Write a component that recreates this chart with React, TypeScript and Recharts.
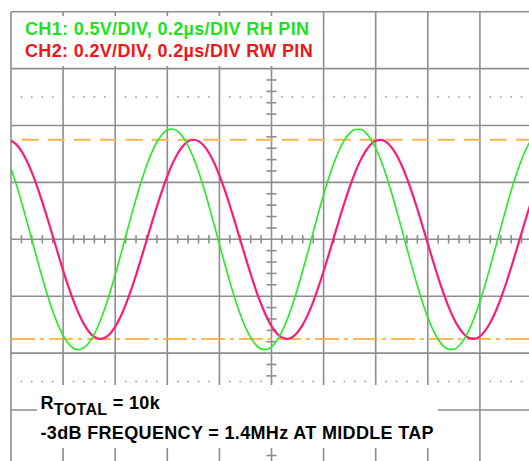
import React from "react";
import { LineChart, Line, XAxis, YAxis, CartesianGrid, ReferenceLine } from "recharts";

// Sample times (µs), 0.2 µs per horizontal division
const timeUs = [
  0, 0.02, 0.04, 0.06, 0.08, 0.1, 0.12, 0.14, 0.16, 0.18,
  0.2, 0.22, 0.24, 0.26, 0.28, 0.3, 0.32, 0.34, 0.36, 0.38,
  0.4, 0.42, 0.44, 0.46, 0.48, 0.5, 0.52, 0.54, 0.56, 0.58,
  0.6, 0.62, 0.64, 0.66, 0.68, 0.7, 0.72, 0.74, 0.76, 0.78,
  0.8, 0.82, 0.84, 0.86, 0.88, 0.9, 0.92, 0.94, 0.96, 0.98,
  1.0, 1.02, 1.04, 1.06, 1.08, 1.1, 1.12, 1.14, 1.16, 1.18,
  1.2, 1.22, 1.24, 1.26, 1.28, 1.3, 1.32, 1.34, 1.36, 1.38,
  1.4, 1.42, 1.44, 1.46, 1.48, 1.5, 1.52, 1.54, 1.56, 1.58,
  1.6, 1.62, 1.64, 1.66, 1.68, 1.7, 1.72, 1.74, 1.76, 1.78,
  1.8, 1.82, 1.84, 1.86, 1.88, 1.9, 1.92, 1.94, 1.96, 1.98,
  2.0,
];

// CH1 (RH pin), in screen divisions
const ch1Div = [
  1.246, 0.968, 0.659, 0.33, -0.009, -0.348, -0.676, -0.984, -1.26, -1.499,
  -1.691, -1.831, -1.915, -1.94, -1.905, -1.812, -1.662, -1.462, -1.217, -0.934,
  -0.623, -0.292, 0.048, 0.386, 0.712, 1.016, 1.29, 1.523, 1.71, 1.843,
  1.921, 1.939, 1.897, 1.797, 1.642, 1.437, 1.187, 0.9, 0.586, 0.254,
  -0.086, -0.423, -0.748, -1.049, -1.317, -1.547, -1.728, -1.855, -1.926, -1.937,
  -1.889, -1.783, -1.621, -1.411, -1.156, -0.866, -0.549, -0.216, 0.124, 0.461,
  0.783, 1.081, 1.346, 1.569, 1.744, 1.866, 1.93, 1.935, 1.88, 1.767,
  1.6, 1.384, 1.125, 0.832, 0.513, 0.178, -0.163, -0.498, -0.818, -1.113,
  -1.373, -1.592, -1.761, -1.876, -1.934, -1.931, -1.87, -1.751, -1.578, -1.356,
  -1.094, -0.797, -0.476, -0.139, 0.201, 0.535, 0.853, 1.144, 1.401, 1.613,
  1.776,
];

// CH2 (RW pin), in screen divisions
const ch2Div = [
  1.735, 1.668, 1.551, 1.385, 1.177, 0.932, 0.659, 0.366, 0.061, -0.246,
  -0.545, -0.827, -1.084, -1.307, -1.49, -1.628, -1.715, -1.749, -1.73, -1.658,
  -1.534, -1.364, -1.151, -0.903, -0.627, -0.332, -0.026, 0.28, 0.577, 0.857,
  1.111, 1.33, 1.508, 1.64, 1.721, 1.75, 1.725, 1.646, 1.517, 1.342,
  1.124, 0.873, 0.594, 0.298, -0.008, -0.314, -0.61, -0.887, -1.137, -1.352,
  -1.525, -1.652, -1.727, -1.75, -1.719, -1.634, -1.499, -1.319, -1.098, -0.842,
  -0.562, -0.264, 0.043, 0.348, 0.642, 0.917, 1.163, 1.374, 1.542, 1.663,
  1.733, 1.749, 1.712, 1.621, 1.482, 1.296, 1.07, 0.812, 0.529, 0.229,
  -0.078, -0.382, -0.674, -0.946, -1.188, -1.395, -1.558, -1.673, -1.737, -1.747,
  -1.704, -1.608, -1.463, -1.273, -1.043, -0.781, -0.496, -0.195, 0.112, 0.416,
  0.706,
];

const gridTimeTicks = [0, 0.2, 0.4, 0.6, 0.8, 1.0, 1.2, 1.4, 1.6, 1.8, 2.0];
const gridDivTicks = [-4, -3, -2, -1, 0, 1, 2, 3, 4];
const cursorLevels = [1.75, -1.75];
const dottedRows = [2.5, -2.5];

const ch1Label = "CH1: 0.5V/DIV, 0.2µs/DIV RH PIN";
const ch2Label = "CH2: 0.2V/DIV, 0.2µs/DIV RW PIN";
const noteMain = "R";
const noteSub = "TOTAL";
const noteRest = " = 10k";
const noteLine2 = "-3dB FREQUENCY = 1.4MHz AT MIDDLE TAP";

const data = timeUs.map((t, i) => ({ t, ch1: ch1Div[i], ch2: ch2Div[i] }));

const minorDiv: number[] = [];
for (let i = -19; i <= 19; i++) if (i % 5 !== 0) minorDiv.push(i / 5);
const minorTime: number[] = [];
for (let i = 1; i < 50; i++) if (i % 5 !== 0) minorTime.push(+(i * 0.04).toFixed(2));

const W = 545;
const H = 475;
const GRID = "#8e8e8e";
const FONT = "'Liberation Sans', Arial, Helvetica, sans-serif";
const LS = 0.34;

export default function App() {
  return (
    <div
      style={{
        position: "fixed",
        left: 0,
        top: 0,
        width: 529,
        height: 461,
        overflow: "hidden",
        background: "#fff",
      }}
    >
      <LineChart
        width={W}
        height={H}
        data={data}
        margin={{ top: 11.7, right: 13, bottom: 8.1, left: 11 }}
      >
        <XAxis type="number" dataKey="t" domain={[0, 2]} ticks={gridTimeTicks} hide />
        <YAxis type="number" domain={[-4, 4]} ticks={gridDivTicks} hide />
        <CartesianGrid stroke={GRID} strokeWidth={1.6} strokeDasharray="" />
        {dottedRows.map((y) => (
          <ReferenceLine
            key={"d" + y}
            y={y}
            stroke="#9a9a9a"
            strokeWidth={1.6}
            strokeDasharray="1.6 8.82"
            strokeDashoffset={0.8}
          />
        ))}
        {minorDiv.map((v) => (
          <ReferenceLine
            key={"mv" + v}
            segment={[
              { x: 1 - 0.0195, y: v },
              { x: 1 + 0.0195, y: v },
            ]}
            stroke={GRID}
            strokeWidth={1.6}
          />
        ))}
        {minorTime.map((t) => (
          <ReferenceLine
            key={"mt" + t}
            segment={[
              { x: t, y: -0.075 },
              { x: t, y: 0.075 },
            ]}
            stroke={GRID}
            strokeWidth={1.6}
          />
        ))}
        <ReferenceLine
          y={cursorLevels[0]}
          stroke="#f6b552"
          strokeWidth={2}
          strokeDasharray="17 9"
          strokeDashoffset={15.3}
        />
        <ReferenceLine
          y={cursorLevels[1]}
          stroke="#ffa41c"
          strokeWidth={1.5}
          strokeDasharray="24 5 4 5"
        />
        <Line
          type="monotone"
          dataKey="ch2"
          stroke="#ff1a78"
          strokeWidth={2.2}
          dot={false}
          isAnimationActive={false}
        />
        <Line
          type="monotone"
          dataKey="ch1"
          stroke="#22ec22"
          strokeWidth={1.6}
          dot={false}
          isAnimationActive={false}
        />
      </LineChart>
      <svg
        width={529}
        height={461}
        style={{ position: "absolute", left: 0, top: 0 }}
      >
        <rect x={12.5} y={16} width={306} height={50} fill="#fff" />
        <text x={25} y={35} fill="#1de21d" fontFamily={FONT} fontWeight="bold" fontSize={18} letterSpacing={LS}>
          {ch1Label}
        </text>
        <text x={25} y={56.7} fill="#f21515" fontFamily={FONT} fontWeight="bold" fontSize={18} letterSpacing={LS}>
          {ch2Label}
        </text>
        <rect x={37} y={385} width={401} height={63} fill="#fff" />
        <text x={40.5} y={408.5} fill="#000" fontFamily={FONT} fontWeight="bold" fontSize={18} letterSpacing={LS}>
          <tspan>{noteMain}</tspan>
          <tspan fontSize={16} dy={6}>
            {noteSub}
          </tspan>
          <tspan dy={-6}>{noteRest}</tspan>
        </text>
        <text x={40.5} y={438.5} fill="#000" fontFamily={FONT} fontWeight="bold" fontSize={18} letterSpacing={LS}>
          {noteLine2}
        </text>
      </svg>
    </div>
  );
}
